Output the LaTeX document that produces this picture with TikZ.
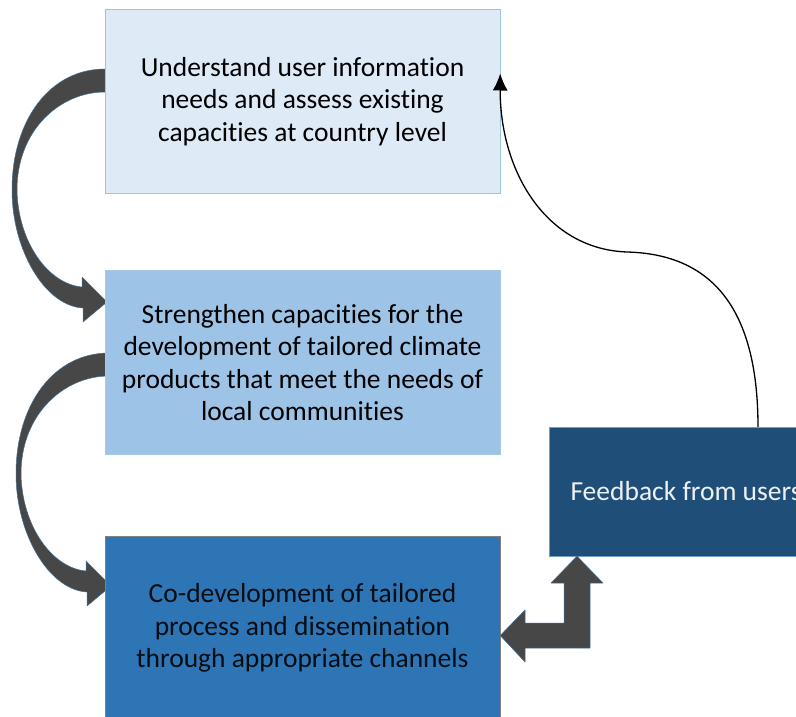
\documentclass[tikz,border=0pt]{standalone}
\usepackage{fontspec}
\setmainfont[Ligatures=NoCommon]{Carlito}
\usetikzlibrary{arrows.meta,calc}
\definecolor{paleblue}{HTML}{DEEAF6}
\definecolor{midblue}{HTML}{9DC3E6}
\definecolor{deepblue}{HTML}{2E75B6}
\definecolor{navyblue}{HTML}{1F4E79}
\definecolor{arrowgray}{HTML}{474747}
\definecolor{arrowedge}{HTML}{41719C}

\begin{document}
\begin{tikzpicture}[x=1pt,y=-1pt,
	stage/.style={minimum width=395pt,minimum height=184pt,align=center,font=\fontsize{27.5}{32.5}\selectfont,inner sep=0pt},
	fat/.style={fill=arrowgray,draw=arrowedge,line width=.5pt,line join=round}]
		\useasboundingbox (0,0) rectangle (796,717);
		% fat curved arrows on the left
		\foreach \dx/\dy in {0/0,4/284}
		\filldraw[fat,shift={(\dx,\dy)}] (105,69) .. controls (50,69) and (12,120) .. (12,190)
			.. controls (12,250) and (45,306) .. (83,308) -- (83,322) -- (107,302) -- (82,277) -- (82,287)
			.. controls (48,284) and (18,242) .. (17,190) .. controls (17,130) and (60,92) .. (105,92) -- cycle;
		\node[stage,fill=paleblue,draw=midblue] (understand) at (302.5,101.5) {Understand user information\\needs and assess existing\\capacities at country level};
		\node[stage,fill=midblue,draw=midblue!90!white] (strengthen) at (302.5,362.5) {Strengthen capacities for the\\development of tailored climate\\products that meet the needs of\\local communities};
		\node[stage,fill=deepblue,draw=gray,text=black!85!navyblue] (codev) at (302.5,628) {Co-development of tailored\\process and dissemination\\through appropriate channels};
		\node[stage,minimum width=274pt,minimum height=129pt,fill=navyblue,draw=deepblue!70!white,text=white!92!navyblue] (feedback) at (686,491.5) {Feedback from users};
		% bent arrow between feedback and co-development
		\filldraw[fat] ([xshift=-109pt]feedback.south) -- (603,583) -- (590,583) -- (590,648) -- (525,648) -- (525,662)
			-- ([yshift=-7.5pt]codev.east) -- (525,610) -- (525,623) -- (564,623) -- (564,583) -- (551,583) -- cycle;
		% thin return arrow
		\draw[line width=1.3pt,-{Latex[length=17pt,width=15pt]}] ([xshift=72pt]feedback.north) .. controls (758,300) and (705,254) .. (627,252)
			.. controls (545,249) and (500,170) .. ([yshift=28pt]understand.east);
	\end{tikzpicture}
\end{document}
